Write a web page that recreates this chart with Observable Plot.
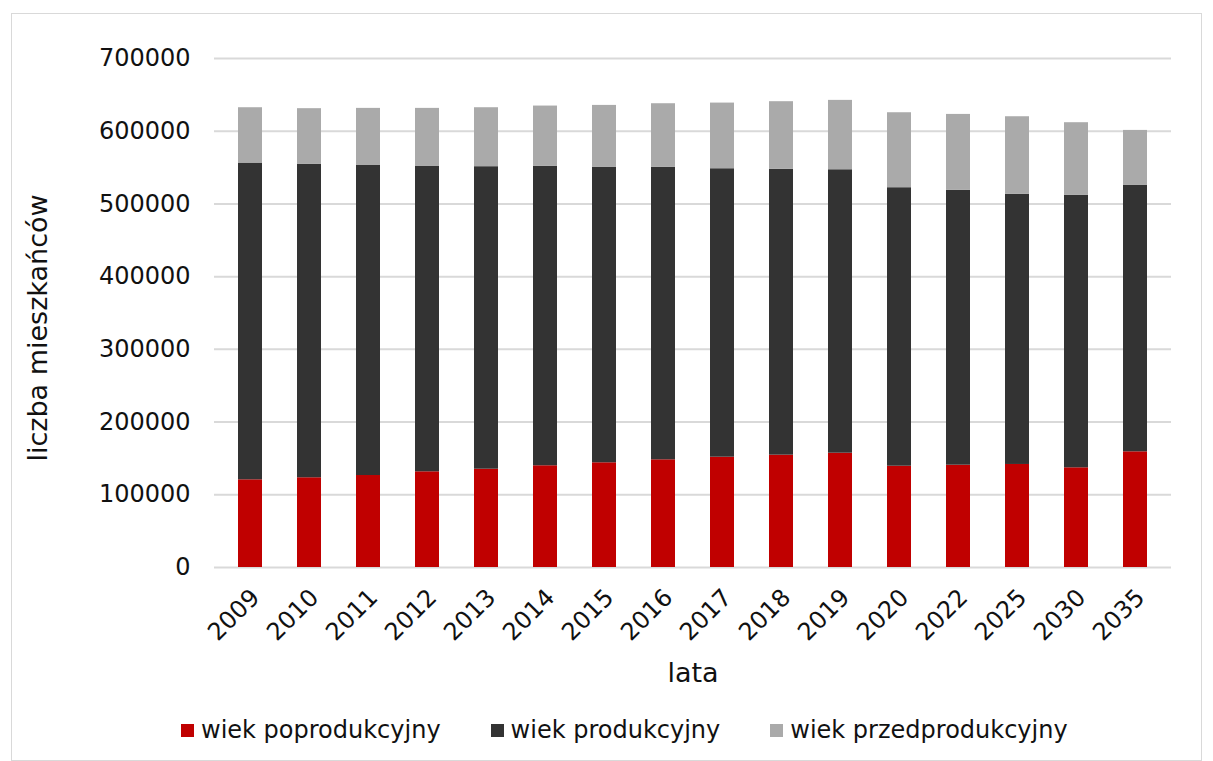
<!DOCTYPE html>
<html><head><meta charset="utf-8">
<script src="https://cdn.jsdelivr.net/npm/d3@7"></script>
<script src="https://cdn.jsdelivr.net/npm/@observablehq/plot@0.6"></script>
<style>
body{margin:0;background:#fff;font-family:"DejaVu Sans",Verdana,sans-serif;}
#frame{position:absolute;left:11px;top:13px;width:1191px;height:748px;border:1.5px solid #d9d9d9;box-sizing:border-box;}
#chart{position:absolute;left:0;top:0;}
#legend{position:absolute;left:181px;top:716px;display:flex;align-items:center;font-size:24px;color:#111;white-space:nowrap;}
.item{display:flex;align-items:center;margin-right:50px;}
.sw{width:13px;height:13px;margin-right:7px;}
</style></head>
<body>
<div id="frame"></div>
<div id="chart"></div>
<div id="legend"></div>
<script>
const years = ["2009","2010","2011","2012","2013","2014","2015","2016","2017","2018","2019","2020","2022","2025","2030","2035"];
const series = ["wiek poprodukcyjny","wiek produkcyjny","wiek przedprodukcyjny"];
const colors = ["#c00000","#333333","#aaaaaa"];
const post = [120600,123400,126500,131600,135200,139900,144000,148100,151700,154500,157200,139300,140700,141700,137100,159100];
const prod = [435600,430900,426900,420400,416000,411700,406600,402100,396700,393000,389800,383000,377900,371400,374600,366300];
const pre  = [76100,76700,78000,79400,81100,83000,84900,87600,90300,93100,95400,103100,104500,106800,100000,75700];
const yTicks = [0,100000,200000,300000,400000,500000,600000,700000];
const xTitle = "lata";
const yTitle = "liczba mieszkańców";

const data = years.flatMap((yr, i) => [
  {year: yr, group: series[0], value: post[i]},
  {year: yr, group: series[1], value: prod[i]},
  {year: yr, group: series[2], value: pre[i]}
]);

const chart = Plot.plot({
  width: 1213, height: 700,
  marginTop: 58, marginLeft: 214, marginRight: 42, marginBottom: 133,
  style: {fontFamily: "DejaVu Sans", fontSize: "24px", color: "#111", background: "transparent"},
  x: {domain: years, paddingInner: 0.6, paddingOuter: 0.3},
  y: {domain: [0, 700000]},
  color: {domain: series, range: colors},
  marks: [
    Plot.gridY(yTicks, {stroke: "#d9d9d9", strokeOpacity: 1, strokeWidth: 2}),
    Plot.barY(data, {x: "year", y: "value", fill: "group"}),
    Plot.axisY(yTicks, {tickSize: 0, tickPadding: 24, tickFormat: d => String(d), label: null}),
    Plot.axisX({tickSize: 0, tickPadding: 12, tickRotate: -45, dx: 5, dy: 14, label: null}),
    Plot.text([xTitle], {frameAnchor: "bottom", dy: 114, fontSize: 27, fill: "#111"}),
    Plot.text([yTitle], {frameAnchor: "left", textAnchor: "middle", rotate: -90, dx: -176, dy: 15, fontSize: 27, fill: "#111"})
  ]
});
document.getElementById("chart").appendChild(chart);

const legend = document.getElementById("legend");
series.forEach((s, i) => {
  const it = document.createElement("div");
  it.className = "item";
  const sw = document.createElement("div");
  sw.className = "sw";
  sw.style.background = colors[i];
  const t = document.createElement("span");
  t.textContent = s;
  it.appendChild(sw); it.appendChild(t);
  legend.appendChild(it);
});
</script>
</body></html>
